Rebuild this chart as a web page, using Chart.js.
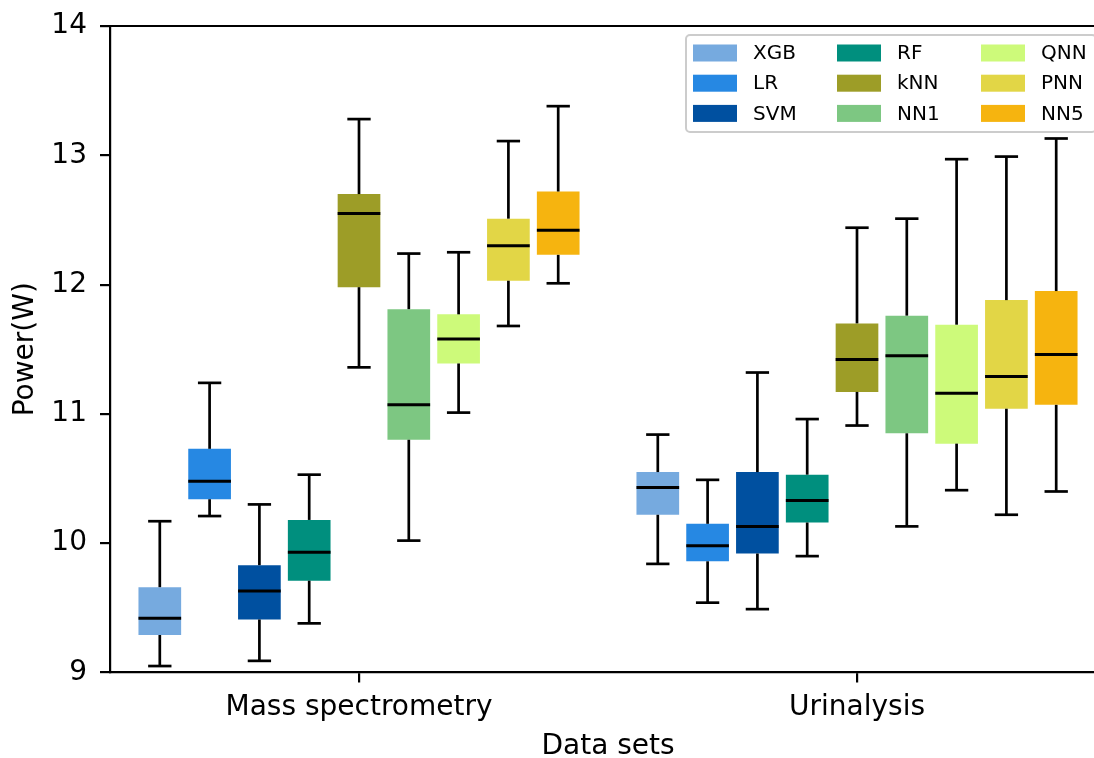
<!DOCTYPE html>
<html><head><meta charset="utf-8">
<script src="https://cdn.jsdelivr.net/npm/chart.js@4.4.1/dist/chart.umd.min.js"></script>
<style>
html,body{margin:0;padding:0;background:#fff;overflow:hidden;width:1094px;height:758px}
#wrap{width:1094px;height:758px;overflow:hidden;position:relative}
canvas{display:block}
</style></head><body>
<div id="wrap"><canvas id="c" width="1110" height="758"></canvas></div>
<script>
const categories = ['Mass spectrometry', 'Urinalysis'];
const series = ['XGB', 'LR', 'SVM', 'RF', 'kNN', 'NN1', 'QNN', 'PNN', 'NN5'];
const colors = ['#76aadf', '#2688e3', '#0050a0', '#008f7e', '#9d9d27', '#7dc782', '#cdfa7a', '#e2d646', '#f6b40f'];
const yTicks = [9, 10, 11, 12, 13, 14];

// Mass spectrometry box statistics (per series)
const massMin    = [9.05, 10.21, 9.09, 9.38, 11.36, 10.02, 11.01, 11.68, 12.01];
const massQ1     = [9.29, 10.34, 9.41, 9.71, 11.98, 10.80, 11.39, 12.03, 12.23];
const massMedian = [9.42, 10.48, 9.63, 9.93, 12.55, 11.07, 11.58, 12.30, 12.42];
const massQ3     = [9.66, 10.73, 9.83, 10.18, 12.70, 11.81, 11.77, 12.51, 12.72];
const massMax    = [10.17, 11.24, 10.30, 10.53, 13.28, 12.24, 12.25, 13.11, 13.38];

// Urinalysis box statistics (per series)
const uriMin    = [9.84, 9.54, 9.49, 9.90, 10.91, 10.13, 10.41, 10.22, 10.40];
const uriQ1     = [10.22, 9.86, 9.92, 10.16, 11.17, 10.85, 10.77, 11.04, 11.07];
const uriMedian = [10.43, 9.98, 10.13, 10.33, 11.42, 11.45, 11.16, 11.29, 11.46];
const uriQ3     = [10.55, 10.15, 10.55, 10.53, 11.70, 11.76, 11.69, 11.88, 11.95];
const uriMax    = [10.84, 10.49, 11.32, 10.96, 12.44, 12.51, 12.97, 12.99, 13.13];

const statMin = [massMin, uriMin];
const statQ1 = [massQ1, uriQ1];
const statMed = [massMedian, uriMedian];
const statQ3 = [massQ3, uriQ3];
const statMax = [massMax, uriMax];

const FONT = '"DejaVu Sans", sans-serif';

const datasets = series.map((name, s) => ({
  label: name,
  data: categories.map((_, c) => [statQ1[c][s], statQ3[c][s]]),
  backgroundColor: colors[s],
  borderWidth: 0,
  borderSkipped: false,
  categoryPercentage: 0.9,
  barPercentage: 0.857
}));

const whiskerPlugin = {
  id: 'whiskers',
  afterDatasetsDraw(chart) {
    const ctx = chart.ctx, y = chart.scales.y;
    const line = (x1, y1, x2, y2) => { ctx.beginPath(); ctx.moveTo(x1, y1); ctx.lineTo(x2, y2); ctx.stroke(); };
    ctx.save();
    ctx.strokeStyle = '#000';
    ctx.lineCap = 'butt';
    chart.data.datasets.forEach((ds, s) => {
      const meta = chart.getDatasetMeta(s);
      meta.data.forEach((bar, c) => {
        const x = bar.x, w = bar.width;
        const pMin = y.getPixelForValue(statMin[c][s]);
        const pQ1 = y.getPixelForValue(statQ1[c][s]);
        const pMed = y.getPixelForValue(statMed[c][s]);
        const pQ3 = y.getPixelForValue(statQ3[c][s]);
        const pMax = y.getPixelForValue(statMax[c][s]);
        ctx.lineWidth = 2.7;
        line(x, pQ3, x, pMax);
        line(x, pQ1, x, pMin);
        line(x - w / 4 - 1, pMax, x + w / 4 + 1, pMax);
        line(x - w / 4 - 1, pMin, x + w / 4 + 1, pMin);
        ctx.lineWidth = 3;
        line(x - w / 2, pMed, x + w / 2, pMed);
      });
    });
    ctx.restore();
  }
};

const framePlugin = {
  id: 'frameLegend',
  afterDraw(chart) {
    const ctx = chart.ctx, a = chart.chartArea;
    ctx.save();
    ctx.strokeStyle = '#000';
    ctx.lineWidth = 2.2;
    ctx.beginPath();
    ctx.moveTo(a.left - 1.1, a.top);
    ctx.lineTo(a.right, a.top);
    ctx.lineTo(a.right, a.bottom);
    ctx.stroke();

    // legend
    const right = a.right - 10, top = a.top + 9, w = 410, h = 97, left = right - w;
    ctx.beginPath();
    ctx.roundRect(left, top, w, h, 4);
    ctx.fillStyle = 'rgba(255,255,255,0.8)';
    ctx.fill();
    ctx.strokeStyle = '#cccccc';
    ctx.lineWidth = 2;
    ctx.stroke();
    ctx.font = '20px ' + FONT;
    ctx.textBaseline = 'middle';
    ctx.textAlign = 'left';
    chart.data.datasets.forEach((ds, i) => {
      const col = Math.floor(i / 3), row = i % 3;
      const sx = left + 7 + col * 144;
      const cy = top + 18 + row * 30.2;
      ctx.fillStyle = ds.backgroundColor;
      ctx.fillRect(sx, cy - 8.5, 44, 17);
      ctx.fillStyle = '#000';
      ctx.fillText(ds.label, sx + 60, cy + 1);
    });
    ctx.restore();
  }
};

new Chart(document.getElementById('c'), {
  type: 'bar',
  data: { labels: categories, datasets },
  plugins: [whiskerPlugin, framePlugin],
  options: {
    responsive: false,
    animation: false,
    layout: { padding: { top: 26, right: 4, left: 0, bottom: 0 } },
    plugins: { legend: { display: false }, tooltip: { enabled: false } },
    scales: {
      x: {
        type: 'category',
        offset: true,
        grid: { display: true, drawOnChartArea: false, offset: false, color: '#000', lineWidth: 2.2, tickLength: 10 },
        border: { display: true, color: '#000', width: 2.2 },
        ticks: { font: { family: FONT, size: 28 }, color: '#000', padding: 8, maxRotation: 0, autoSkip: false },
        title: { display: true, text: 'Data sets', color: '#000', font: { family: FONT, size: 28, lineHeight: 1 }, padding: { top: 0, bottom: -3 } },
        afterFit: s => { s.height = 85.5; }
      },
      y: {
        type: 'linear',
        min: 9, max: 14,
        afterBuildTicks: s => { s.ticks = yTicks.map(v => ({ value: v })); },
        grid: { display: true, drawOnChartArea: false, color: '#000', lineWidth: 2.2, tickLength: 10 },
        border: { display: true, color: '#000', width: 2.2 },
        ticks: { font: { family: FONT, size: 28, lineHeight: 0.4 }, color: '#000', padding: 13 },
        title: { display: true, text: 'Power(W)', color: '#000', font: { family: FONT, size: 28, lineHeight: 1 }, padding: { top: 12, bottom: 0 } },
        afterFit: s => { s.width = 110; }
      }
    }
  }
});
</script>
</body></html>
